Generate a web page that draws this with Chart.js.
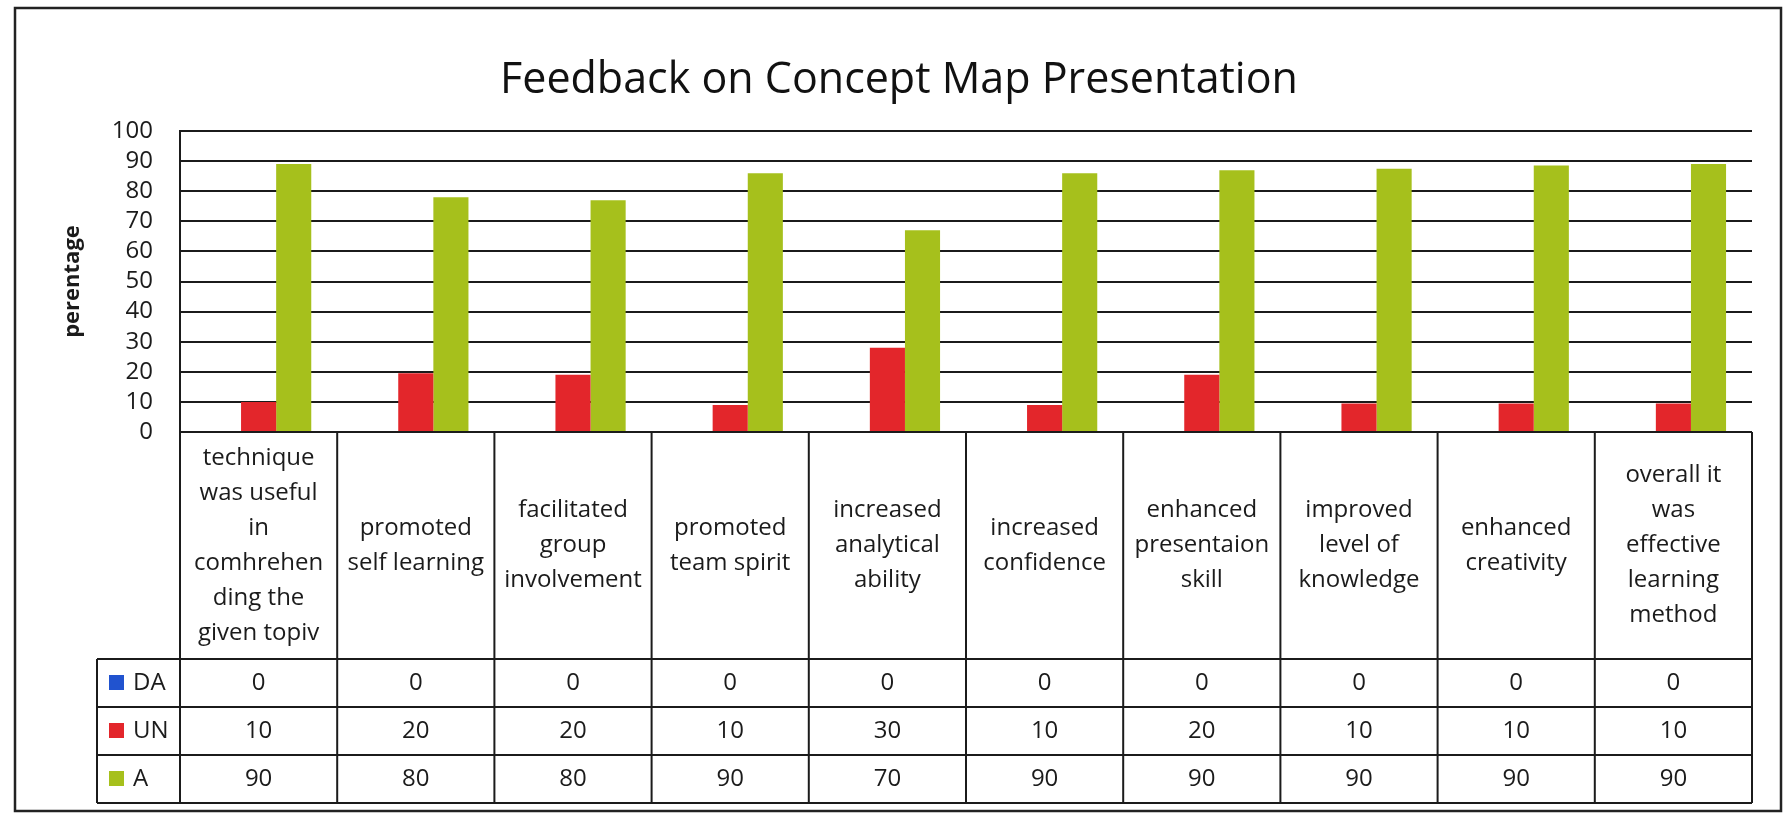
<!DOCTYPE html>
<html>
<head>
<meta charset="utf-8">
<script src="https://cdn.jsdelivr.net/npm/chart.js@4.4.1/dist/chart.umd.min.js"></script>
<style>
  html, body { margin: 0; padding: 0; background: #fff; }
  #wrap { width: 1784px; height: 814px; }
</style>
</head>
<body>
<div id="wrap"><canvas id="chFeedback" width="1784" height="814"></canvas></div>
<script>
/* ── Dati ── */
const chartTitle = 'Feedback on Concept Map Presentation';
const yTitle = 'perentage';
const categories = [
  ['technique', 'was useful', 'in', 'comhrehen', 'ding the', 'given topiv'],
  ['promoted', 'self learning'],
  ['facilitated', 'group', 'involvement'],
  ['promoted', 'team spirit'],
  ['increased', 'analytical', 'ability'],
  ['increased', 'confidence'],
  ['enhanced', 'presentaion', 'skill'],
  ['improved', 'level of', 'knowledge'],
  ['enhanced', 'creativity'],
  ['overall it', 'was', 'effective', 'learning', 'method']
];
const seriesNames = ['DA', 'UN', 'A'];

// altezze delle barre come appaiono nel grafico
const barDA = [0, 0, 0, 0, 0, 0, 0, 0, 0, 0];
const barUN = [10, 19.5, 19, 9, 28, 9, 19, 9.5, 9.5, 9.5];
const barA  = [89, 78, 77, 86, 67, 86, 87, 87.5, 88.5, 89];

// valori stampati nella tabella dati
const tableDA = [0, 0, 0, 0, 0, 0, 0, 0, 0, 0];
const tableUN = [10, 20, 20, 10, 30, 10, 20, 10, 10, 10];
const tableA  = [90, 80, 80, 90, 70, 90, 90, 90, 90, 90];

const yMin = 0, yMax = 100, yStep = 10;

const COLORS = { DA: '#2153cf', UN: '#e3262b', A: '#a6c01c' };
const INK = '#1b1b1b';
const FONT = '"Open Sans", sans-serif';

/* Tabella dati sotto l'asse + titolo + cornice */
const dataTablePlugin = {
  id: 'dataTable',
  afterDraw(chart) {
    const { ctx, chartArea: a, scales: { x } } = chart;
    const colW = (a.right - a.left) / categories.length;
    const catBottom = 659, rowH = 48, legendLeft = 97;
    const tblBottom = catBottom + rowH * 3;
    const rows = [
      { name: 'DA', vals: tableDA },
      { name: 'UN', vals: tableUN },
      { name: 'A', vals: tableA }
    ];

    ctx.save();
    ctx.strokeStyle = INK;
    ctx.lineWidth = 2;

    // righe orizzontali
    ctx.beginPath();
    for (let r = 0; r <= 3; r++) {
      const y = catBottom + r * rowH;
      ctx.moveTo(legendLeft, y); ctx.lineTo(a.right, y);
    }
    // colonne
    for (let i = 0; i <= categories.length; i++) {
      const xx = i < categories.length ? x.getPixelForValue(i) - colW / 2 : a.right;
      ctx.moveTo(xx, a.bottom); ctx.lineTo(xx, tblBottom);
    }
    ctx.moveTo(legendLeft, catBottom); ctx.lineTo(legendLeft, tblBottom);
    ctx.stroke();

    // etichette categorie
    ctx.fillStyle = INK;
    ctx.textAlign = 'center';
    ctx.textBaseline = 'middle';
    ctx.font = '24px ' + FONT;
    const lh = 35;
    const mid = (a.bottom + catBottom) / 2;
    categories.forEach((lines, i) => {
      const cx = x.getPixelForValue(i);
      const y0 = mid - (lines.length - 1) * lh / 2;
      lines.forEach((t, k) => ctx.fillText(t, cx, y0 + k * lh));
    });

    // valori + chiavi legenda
    rows.forEach((row, r) => {
      const cy = catBottom + r * rowH + rowH / 2;
      row.vals.forEach((v, i) => {
        ctx.textAlign = 'center';
        ctx.fillText(String(v), x.getPixelForValue(i), cy);
      });
      ctx.fillStyle = COLORS[row.name];
      ctx.fillRect(109, cy - 8, 15, 15);
      ctx.fillStyle = INK;
      ctx.textAlign = 'left';
      ctx.fillText(row.name, 133, cy);
    });

    // titolo
    ctx.textAlign = 'center';
    ctx.textBaseline = 'alphabetic';
    ctx.font = '43px ' + FONT;
    ctx.fillStyle = '#111';
    ctx.fillText(chartTitle, 899, 93);

    // cornice
    ctx.lineWidth = 2.5;
    ctx.strokeStyle = '#222';
    ctx.strokeRect(15, 8, 1766, 803);
    ctx.restore();
  }
};

new Chart(document.getElementById('chFeedback'), {
  type: 'bar',
  data: {
    labels: categories.map(l => l.join(' ')),
    datasets: [
      { label: seriesNames[0], data: barDA, backgroundColor: COLORS.DA },
      { label: seriesNames[1], data: barUN, backgroundColor: COLORS.UN },
      { label: seriesNames[2], data: barA, backgroundColor: COLORS.A }
    ]
  },
  options: {
    responsive: false,
    devicePixelRatio: 1,
    animation: false,
    layout: { padding: { top: 131, right: 32, bottom: 382, left: 0 } },
    datasets: { bar: { categoryPercentage: 0.67, barPercentage: 1.0 } },
    plugins: {
      legend: { display: false },
      tooltip: { enabled: false },
      title: { display: false }
    },
    scales: {
      x: { display: false },
      y: {
        min: yMin, max: yMax,
        ticks: {
          stepSize: yStep, autoSkip: false, color: INK, padding: 27,
          font: { family: FONT, size: 24 }
        },
        grid: { color: INK, lineWidth: 2, drawTicks: false },
        border: { display: true, color: INK, width: 2 },
        title: {
          display: true, text: yTitle, color: INK,
          font: { family: FONT, size: 22, weight: 'bold' },
          padding: { top: 60, bottom: 0 }
        },
        afterFit: s => { s.width = 180; }
      }
    }
  },
  plugins: [dataTablePlugin]
});
</script>
</body>
</html>
